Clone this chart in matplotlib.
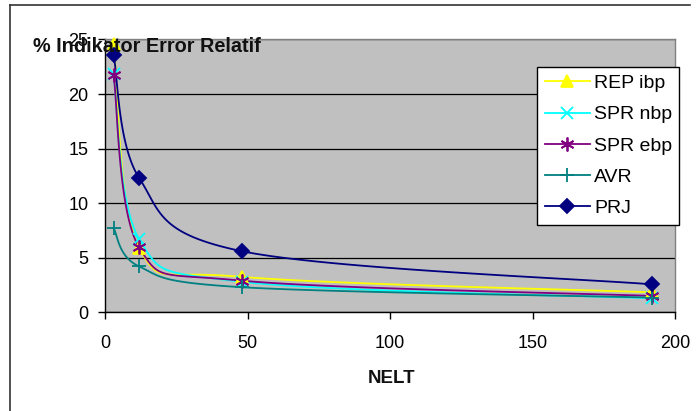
import numpy as np
import matplotlib
matplotlib.use("Agg")
import matplotlib.pyplot as plt
from matplotlib.lines import Line2D

plt.rcParams['font.family'] = ['Liberation Sans', 'DejaVu Sans']

# ---- data ----
nelt = [3, 12, 48, 192]
rep_ibp = [24.6, 5.9, 3.25, 1.83]
spr_nbp = [21.8, 6.7, 2.8, 1.28]
spr_ebp = [21.75, 5.94, 2.9, 1.5]
avr = [7.7, 4.2, 2.3, 1.35]
prj = [23.6, 12.3, 5.6, 2.56]

series_names = ["REP ibp", "SPR nbp", "SPR ebp", "AVR", "PRJ"]
xticks = [0, 50, 100, 150, 200]
yticks = [0, 5, 10, 15, 20, 25]


def excel_smooth(x, y, n=40):
    """Excel-like smoothed line (Catmull-Rom Bezier) through the points."""
    P = np.column_stack([x, y]).astype(float)
    pts = []
    m = len(P)
    for i in range(m - 1):
        p0 = P[i - 1] if i > 0 else P[i]
        p1 = P[i]
        p2 = P[i + 1]
        p3 = P[i + 2] if i + 2 < m else P[i + 1]
        c1 = p1 + (p2 - p0) / 6.0
        c2 = p2 - (p3 - p1) / 6.0
        t = np.linspace(0, 1, n)[:, None]
        seg = ((1 - t) ** 3) * p1 + 3 * ((1 - t) ** 2) * t * c1 + 3 * (1 - t) * t ** 2 * c2 + t ** 3 * p2
        if i > 0:
            seg = seg[1:]
        pts.append(seg)
    pts = np.vstack(pts)
    return pts[:, 0], pts[:, 1]


W, H = 700, 411
fig = plt.figure(figsize=(W / 100, H / 100), dpi=100)
fig.patch.set_facecolor('white')

# outer chart border (top and left visible)
fig.add_artist(Line2D([10 / W, 690 / W], [1 - 5 / H, 1 - 5 / H], color='#333333', lw=1.2))
fig.add_artist(Line2D([10 / W, 10 / W], [1 - 5 / H, 0], color='#333333', lw=1.2))

L, R, T, B = 105, 675, 39.5, 312.3
ax = fig.add_axes([L / W, 1 - B / H, (R - L) / W, (B - T) / H])
ax.set_facecolor('#c0c0c0')
ax.set_xlim(0, 200)
ax.set_ylim(0, 25)
ax.set_xticks(xticks)
ax.set_yticks(yticks)
ax.grid(axis='y', color='black', lw=0.9)
ax.set_axisbelow(True)
for s in ['top', 'right']:
    ax.spines[s].set_color('#808080')
    ax.spines[s].set_linewidth(1.0)
for s in ['left', 'bottom']:
    ax.spines[s].set_color('black')
    ax.spines[s].set_linewidth(1.0)
ax.tick_params(direction='out', length=5, width=1, labelsize=13, pad=7, colors='black')
ax.tick_params(axis='x', pad=11)

styles = [
    (rep_ibp, '#FFFF00', '^', 9),
    (spr_nbp, '#00FFFF', 'x', 8),
    (spr_ebp, '#800080', (6, 2, 0), 10),
    (avr, '#008080', '+', 10),
    (prj, '#000080', 'D', 7),
]
handles = []
for (vals, col, mk, ms), name in zip(styles, series_names):
    sx, sy = excel_smooth(nelt, vals)
    ax.plot(sx, sy, color=col, lw=1.3, clip_on=False, zorder=3)
    ax.plot(nelt, vals, linestyle='none', marker=mk, ms=ms, color=col,
            mec=col, mfc=col, mew=1.3, clip_on=False, zorder=4)
    handles.append(Line2D([], [], color=col, lw=1.3, marker=mk, ms=ms,
                          mec=col, mfc=col, mew=1.3, label=name))

leg = fig.legend(handles=handles, loc='upper left',
                 bbox_to_anchor=(537 / W, 1 - 227 / H, (679 - 537) / W, (227 - 66.7) / H),
                 mode='expand', borderaxespad=0, fontsize=14, frameon=True,
                 fancybox=False, shadow=False, labelspacing=0.7, handlelength=2.3,
                 handletextpad=0.25, borderpad=0.4, markerscale=1.0)
leg.get_frame().set_edgecolor('black')
leg.get_frame().set_linewidth(1.0)
leg.get_frame().set_facecolor('white')
leg.get_frame().set_alpha(1)

fig.text(33 / W, 1 - 47 / H, "% Indikator Error Relatif", fontsize=14.3,
         fontweight='bold', ha='left', va='center', color='#111111')
fig.text(392 / W, 1 - 378 / H, "NELT", fontsize=13.5,
         fontweight='bold', ha='center', va='center', color='#111111')

fig.savefig('out.png', dpi=100)
